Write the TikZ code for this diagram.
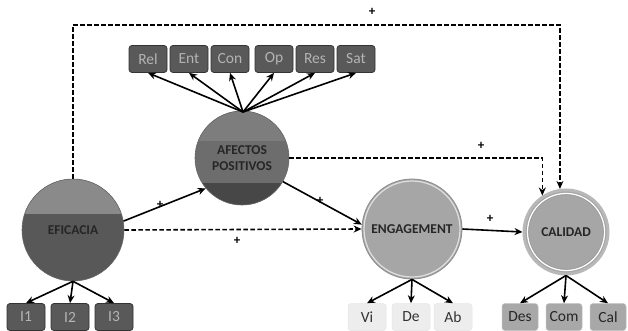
\documentclass[tikz,border=0pt]{standalone}
\usepackage{fontspec}
\setmainfont{Carlito}
\usetikzlibrary{arrows.meta,calc}
\definecolor{boxdark}{HTML}{595959}
\definecolor{boxdarkline}{HTML}{333333}
\definecolor{boxtext}{HTML}{B4B4B4}
\definecolor{boxlight}{HTML}{EDEDED}
\definecolor{boxmid}{HTML}{A8A8A8}
\definecolor{efitop}{HTML}{8A8A8A}
\definecolor{efibot}{HTML}{585858}
\definecolor{afetop}{HTML}{7D7D7D}
\definecolor{afemid}{HTML}{6D6D6D}
\definecolor{afebot}{HTML}{474747}
\definecolor{enggray}{HTML}{A6A6A6}
\tikzset{
  arr/.style={line width=1.6pt,-{Stealth[length=8pt,width=7pt]}},
  darr/.style={arr,dash pattern=on 4.5pt off 2.5pt},
  plus/.style={font=\bfseries\fontsize{13}{13}\selectfont,inner sep=0pt},
  clabel/.style={font=\bfseries\fontsize{13.5}{16.5}\selectfont,text=black!85,align=center},
  darkbox/.style={rectangle,rounded corners=3pt,fill=boxdark,draw=boxdarkline,line width=0.8pt,
    minimum width=38pt,minimum height=27pt,inner xsep=2pt,text=boxtext,font=\fontsize{15.5}{15.5}\selectfont},
  lightbox/.style={rectangle,rounded corners=3pt,fill=boxlight,draw=black!10,line width=0.5pt,
    minimum width=38pt,minimum height=27pt,inner xsep=2pt,text=black!80,font=\fontsize{15.5}{15.5}\selectfont},
  midbox/.style={rectangle,rounded corners=3pt,fill=boxmid,draw=black!25,line width=0.5pt,
    minimum width=36pt,minimum height=27pt,inner xsep=2pt,text=black!85,font=\fontsize{15.5}{15.5}\selectfont},
}
\begin{document}
\begin{tikzpicture}[x=1pt,y=-1pt]
\useasboundingbox (0,0) rectangle (628,331);

% circles
\node[circle,minimum size=102pt,inner sep=0pt,fill=efibot,draw=black!60,line width=0.6pt,
  path picture={\fill[efitop] (path picture bounding box.north west) rectangle ($(path picture bounding box.north east)+(0,35)$);}]
  (efi) at (73,230) {};
\node[clabel] at (efi.center) {EFICACIA};

\node[circle,minimum size=94pt,inner sep=0pt,fill=afemid,draw=black!60,line width=0.6pt,
  path picture={\fill[afetop] (path picture bounding box.north west) rectangle ($(path picture bounding box.north east)+(0,30)$);
                \fill[afebot] ($(path picture bounding box.south west)+(0,-22)$) rectangle (path picture bounding box.south east);}]
  (afe) at (242,158) {};
\node[clabel] at (afe.center) {AFECTOS\\POSITIVOS};

\node[circle,minimum size=100pt,inner sep=0pt,fill=enggray,draw=black!45,line width=0.8pt] (eng) at (412,229) {};
\draw[black!12,line width=1.2pt] (eng.center) circle (48);
\node[clabel] at (eng.center) {ENGAGEMENT};

\node[circle,minimum size=84pt,inner sep=0pt,fill=enggray,draw=black!28,line width=3pt] (cal) at (566,232) {};
\draw[white,line width=1.3pt] (cal.center) circle (38.5);
\draw[black!40,line width=0.5pt] (cal.center) circle (37.3);
\node[clabel] at (cal.center) {CALIDAD};

% top indicator boxes
\node[darkbox] (rel) at (148,59) {Rel};
\node[darkbox] (ent) at (189,59) {Ent};
\node[darkbox] (con) at (230,59) {Con};
\node[darkbox] (op)  at (274,59) {Op};
\node[darkbox] (res) at (315,59) {Res};
\node[darkbox] (sat) at (356,59) {Sat};

% bottom indicator boxes
\node[darkbox] (i1) at (26,317) {I1};
\node[darkbox] (i2) at (70,317) {I2};
\node[darkbox] (i3) at (114,317) {I3};
\node[lightbox] (vi) at (367,317) {Vi};
\node[lightbox] (de) at (411,317) {De};
\node[lightbox] (ab) at (453,317) {Ab};
\node[midbox] (des) at (520,317) {Des};
\node[midbox] (com) at (564,317) {Com};
\node[midbox] (cl)  at (608,317) {Cal};

% indicator arrows
\coordinate (apex) at (243,112);
\foreach \b in {rel,ent,con,op,res,sat} \draw[arr] (apex) -- (\b.south);
\foreach \b in {i1,i2,i3} \draw[arr] (efi.south) -- (\b.north);
\foreach \b in {vi,de,ab} \draw[arr] (eng.south) -- (\b.north);
\foreach \b in {des,com,cl} \draw[arr] (cal.south) -- (\b.north);

% structural paths
\coordinate (topy) at (0,25);
\draw[darr] (efi.north) |- (topy -| cal.98) -- (cal.98);
\draw[darr] (afe.east) -| (cal.123);
\draw[arr] (efi.10) -- (afe.220);
\draw[darr] (efi.east) -- (eng.west);
\draw[arr] (afe.-30) -- (eng.175);
\draw[arr] (eng.east) -- (cal.west);

% signs
\node[plus] (p1) at (372,12) {+};
\node[plus] (p2) at (160,205) {+};
\node[plus] (p3) at (237,241) {+};
\node[plus] (p4) at (320,201) {+};
\node[plus] (p5) at (481,146) {+};
\node[plus] (p6) at (490,219) {+};
\end{tikzpicture}
\end{document}
